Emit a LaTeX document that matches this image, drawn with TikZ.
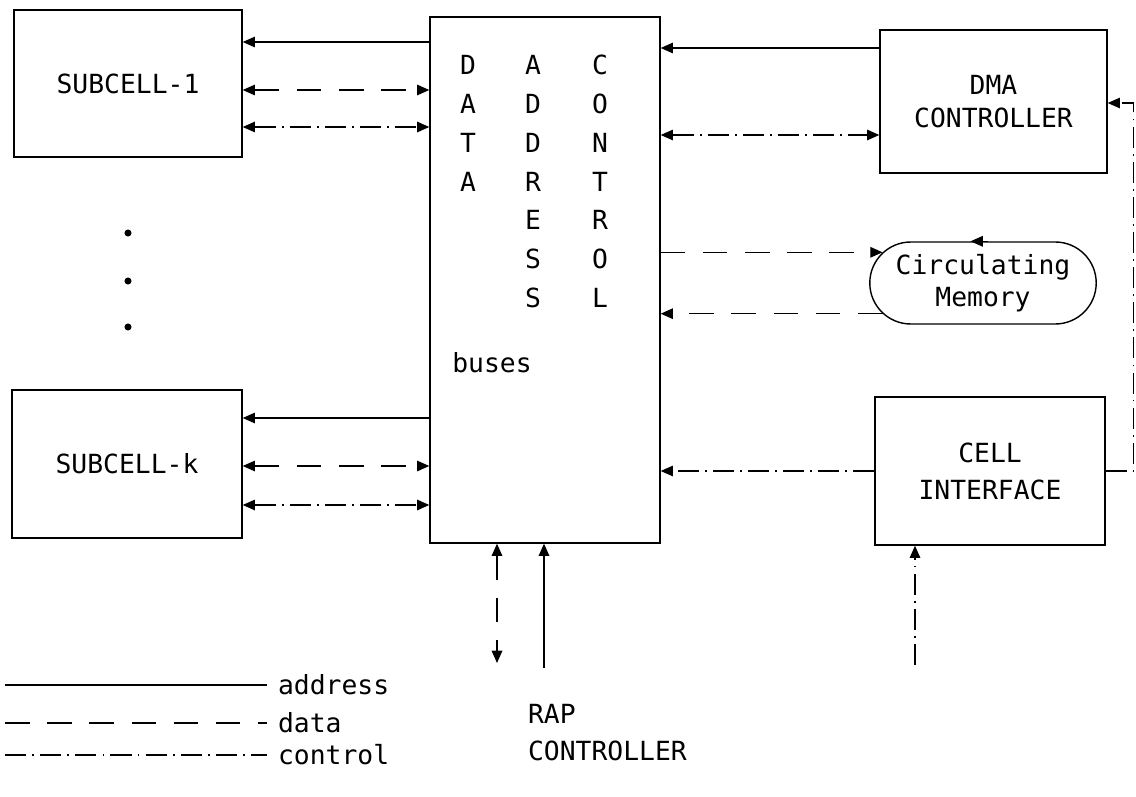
\documentclass[tikz,border=0pt]{standalone}
\usepackage{fontspec}
\setmainfont{DejaVu Sans Mono}
\usetikzlibrary{arrows.meta,shapes.misc}
\tikzset{
  bt/.tip={Triangle[length=7pt,width=6pt]},
  lbl/.style={font=\fontsize{15}{19}\selectfont, inner sep=1pt},
  unit/.style={lbl, draw, line width=0.8pt, align=center},
  addr/.style={line width=0.8pt},
  dat/.style={line width=0.8pt, dash pattern=on 14pt off 10pt},
  ctrl/.style={line width=0.8pt, dash pattern=on 12pt off 3.5pt on 1pt off 3.5pt},
}
\begin{document}
\begin{tikzpicture}[x=0.02cm, y=-0.02cm]
    \useasboundingbox (0,0) rectangle (1136,797);

    % boxes
    \node[unit, minimum width=4.56cm, minimum height=2.94cm] (sub1) at (128,83.5) {SUBCELL-1};
    \node[unit, minimum width=4.6cm, minimum height=2.96cm] (subk) at (127,464) {SUBCELL-k};
    \node[unit, minimum width=4.6cm, minimum height=10.52cm] (bus) at (545,280) {};
    \node[unit, minimum width=4.54cm, minimum height=2.86cm] (dma) at (993.5,101.5) {DMA\\CONTROLLER};
    \node[unit, minimum width=4.6cm, minimum height=2.96cm,
          font=\fontsize{15}{21}\selectfont] (ci) at (990,471) {CELL\\INTERFACE};
    \node[unit, rounded rectangle, minimum width=4.6cm, minimum height=1.64cm,
          font=\fontsize{15}{18}\selectfont] (mem) at (983,283) {Circulating\\Memory};

    % bus names, one letter per row
    \foreach \ch [count=\i] in {D,A,T,A}
      \node[lbl] (d\i) at (468,{65+38.8*(\i-1)}) {\ch};
    \foreach \ch [count=\i] in {A,D,D,R,E,S,S}
      \node[lbl] (a\i) at (533,{65+38.8*(\i-1)}) {\ch};
    \foreach \ch [count=\i] in {C,O,N,T,R,O,L}
      \node[lbl] (c\i) at (600,{65+38.8*(\i-1)}) {\ch};
    \node[lbl] (buses) at (492,363) {buses};

    % dots between the subcells
    \foreach \y [count=\i] in {233,281,327}
      \fill (128,\y) circle (2pt);

    % subcells
    \draw[addr,-bt] (bus.west |- 0,42) -- (sub1.east |- 0,42);
    \draw[dat,bt-bt] (sub1.east |- 0,90) -- (bus.west |- 0,90);
    \draw[ctrl,bt-bt] (sub1.east |- 0,127) -- (bus.west |- 0,127);
    \draw[addr,-bt] (bus.west |- 0,418) -- (subk.east |- 0,418);
    \draw[dat,bt-bt] (subk.east |- 0,466) -- (bus.west |- 0,466);
    \draw[ctrl,bt-bt] (subk.east |- 0,505) -- (bus.west |- 0,505);

    % right side
    \draw[addr,-bt] (dma.west |- 0,48) -- (bus.east |- 0,48);
    \draw[ctrl,bt-bt] (bus.east |- 0,135) -- (dma.west |- 0,135);
    \draw[dat,-bt] (bus.east |- mem.163) -- (mem.163);
    \draw[dat,-bt] (mem.197) -- (bus.east |- mem.197);
    \draw[addr,-bt] ([xshift=0.1cm]mem.north) -- ([xshift=-0.25cm]mem.north);
    \draw[ctrl,-bt] (ci.west) -- (bus.east |- ci.west);
    \draw[ctrl,-bt] (ci.east) -- ++(28,0) |- (dma.east |- 0,103);

    % bottom
    \coordinate (dbot) at (497,663);
    \coordinate (rap) at (544,668);
    \coordinate (cin) at (915,665);
    \draw[dat,bt-bt] (bus.south -| dbot) -- (dbot);
    \draw[addr,-bt] (rap) -- (bus.south -| rap);
    \draw[ctrl,-bt] (cin) -- (ci.south -| cin);
    \node[lbl, anchor=north west, align=left, font=\fontsize{15}{21}\selectfont]
      (rapc) at (526,702) {RAP\\CONTROLLER};

    % legend
    \foreach \sty/\txt/\y in {addr/address/685, dat/data/723, ctrl/control/755} {
      \coordinate (l\txt) at (5,\y);
      \node[lbl, anchor=west] (k\txt) at (276,\y) {\txt};
      \draw[\sty] (l\txt) -- ([xshift=-0.18cm]k\txt.west);
    }
\end{tikzpicture}
\end{document}
